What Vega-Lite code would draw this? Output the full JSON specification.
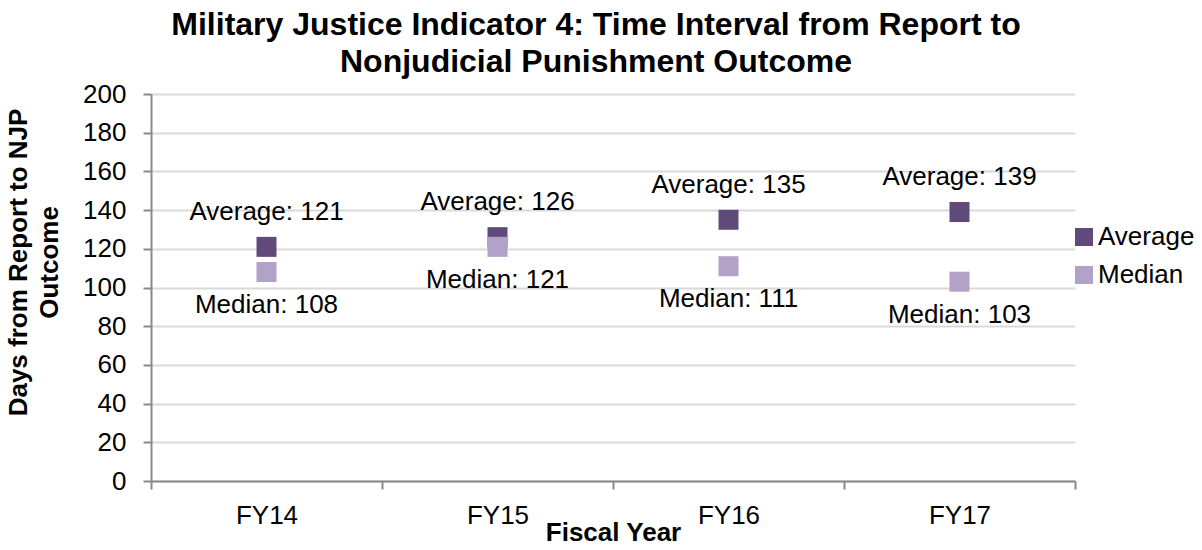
{
  "$schema": "https://vega.github.io/schema/vega-lite/v6.json",
  "autosize": {"type": "none"},
  "padding": {"left": 151, "top": 94, "right": 127, "bottom": 69},
  "width": 924,
  "height": 387,
  "background": "white",
  "config": {
    "view": {"stroke": null},
    "font": "Liberation Sans",
    "title": {"font": "Liberation Sans"},
    "axis": {"labelFont": "Liberation Sans", "titleFont": "Liberation Sans"},
    "legend": {"labelFont": "Liberation Sans"}
  },
  "title": {
    "text": ["Military Justice Indicator 4: Time Interval from Report to", "Nonjudicial Punishment Outcome"],
    "fontSize": 32,
    "fontWeight": "bold",
    "color": "#000000",
    "lineHeight": 37,
    "anchor": "middle",
    "dx": -17,
    "offset": 2
  },
  "data": {
    "values": [
      {"fy": "FY14", "series": "Average", "value": 121, "label": "Average: 121"},
      {"fy": "FY15", "series": "Average", "value": 126, "label": "Average: 126"},
      {"fy": "FY16", "series": "Average", "value": 135, "label": "Average: 135"},
      {"fy": "FY17", "series": "Average", "value": 139, "label": "Average: 139"},
      {"fy": "FY14", "series": "Median", "value": 108, "label": "Median: 108"},
      {"fy": "FY15", "series": "Median", "value": 121, "label": "Median: 121"},
      {"fy": "FY16", "series": "Median", "value": 111, "label": "Median: 111"},
      {"fy": "FY17", "series": "Median", "value": 103, "label": "Median: 103"}
    ]
  },
  "encoding": {
    "x": {
      "field": "fy",
      "type": "nominal",
      "sort": ["FY14", "FY15", "FY16", "FY17"],
      "scale": {"type": "band", "paddingInner": 0, "paddingOuter": 0},
      "axis": {
        "title": "Fiscal Year",
        "titleFontSize": 26,
        "titleFontWeight": "bold",
        "titleColor": "#000000",
        "titleBaseline": "alphabetic",
        "titleY": 59,
        "labelAngle": 0,
        "labelFontSize": 26,
        "labelColor": "#000000",
        "labelBaseline": "alphabetic",
        "labelPadding": 34,
        "tickBand": "extent",
        "tickSize": 8,
        "tickWidth": 2,
        "tickColor": "#898989",
        "domainColor": "#898989",
        "domainWidth": 2,
        "grid": false
      }
    },
    "y": {
      "field": "value",
      "type": "quantitative",
      "scale": {"domain": [0, 200], "nice": false, "zero": true},
      "axis": {
        "title": ["Days from Report to NJP", "Outcome"],
        "titleFontSize": 26,
        "titleFontWeight": "bold",
        "titleColor": "#000000",
        "titleLineHeight": 31,
        "titleBaseline": "middle",
        "titleAngle": -90,
        "titleX": -133,
        "titleY": 168,
        "values": [0, 20, 40, 60, 80, 100, 120, 140, 160, 180, 200],
        "labelFontSize": 26,
        "labelColor": "#000000",
        "labelPadding": 17,
        "tickSize": 8,
        "tickWidth": 2,
        "tickColor": "#898989",
        "domainColor": "#898989",
        "domainWidth": 2,
        "grid": true,
        "gridColor": "#D9D9D9",
        "gridWidth": 2
      }
    }
  },
  "layer": [
    {
      "mark": {"type": "point", "shape": "square", "filled": true, "size": 400, "opacity": 1},
      "encoding": {
        "color": {
          "field": "series",
          "type": "nominal",
          "scale": {"domain": ["Average", "Median"], "range": ["#604A7B", "#B3A2C7"]},
          "legend": {
            "title": null,
            "orient": "none",
            "legendX": 920,
            "legendY": 130,
            "padding": 0,
            "symbolType": "square",
            "symbolSize": 324,
            "symbolStrokeWidth": 0,
            "symbolOpacity": 1,
            "labelFontSize": 26,
            "labelColor": "#000000",
            "labelOffset": 1,
            "rowPadding": 12
          }
        }
      }
    },
    {
      "transform": [{"filter": "datum.series === 'Average'"}],
      "mark": {"type": "text", "fontSize": 26, "color": "#000000", "baseline": "alphabetic", "dy": -27},
      "encoding": {"text": {"field": "label"}}
    },
    {
      "transform": [{"filter": "datum.series === 'Median'"}],
      "mark": {"type": "text", "fontSize": 26, "color": "#000000", "baseline": "alphabetic", "dy": 41},
      "encoding": {"text": {"field": "label"}}
    }
  ]
}
